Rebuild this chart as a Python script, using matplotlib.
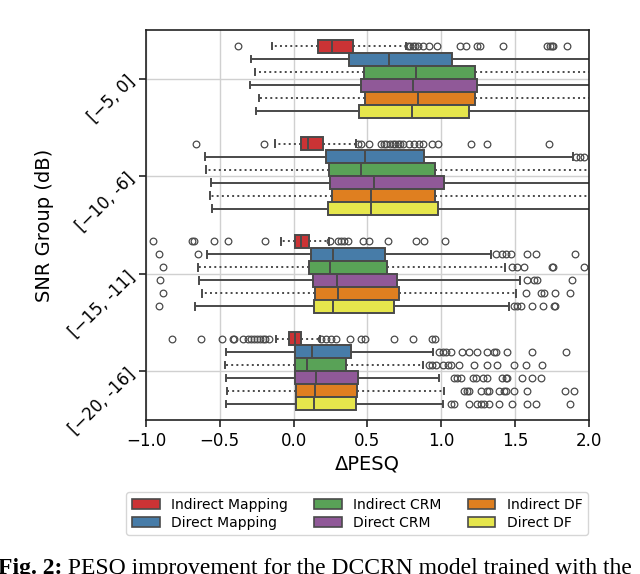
import colorsys
import matplotlib
matplotlib.use("Agg")
import matplotlib.pyplot as plt
from matplotlib.patches import Patch
import matplotlib.colors as mcolors

groups = ["[\u22125, 0]", "[\u221210, -6]", "[\u221215, -11]", "[\u221220, -16]"]
methods = ["Indirect Mapping", "Direct Mapping", "Indirect CRM",
           "Direct CRM", "Indirect DF", "Direct DF"]
base_colors = ["#e41a1c", "#377eb8", "#4daf4a", "#984ea3", "#ff7f00", "#ffff33"]

whislo = {
    "Indirect Mapping": [-0.147, -0.124, -0.083, -0.117],
    "Direct Mapping":   [-0.286, -0.601, -0.585, -0.455],
    "Indirect CRM":     [-0.259, -0.592, -0.646, -0.462],
    "Direct CRM":       [-0.297, -0.559, -0.640, -0.455],
    "Indirect DF":      [-0.236, -0.565, -0.617, -0.448],
    "Direct DF":        [-0.257, -0.554, -0.667, -0.455],
}
q1 = {
    "Indirect Mapping": [0.164, 0.050, 0.011, -0.034],
    "Direct Mapping":   [0.378, 0.221, 0.119, 0.007],
    "Indirect CRM":     [0.475, 0.239, 0.104, 0.010],
    "Direct CRM":       [0.459, 0.248, 0.135, 0.010],
    "Indirect DF":      [0.486, 0.259, 0.142, 0.019],
    "Direct DF":        [0.446, 0.234, 0.140, 0.014],
}
med = {
    "Indirect Mapping": [0.260, 0.097, 0.052, 0.007],
    "Direct Mapping":   [0.649, 0.482, 0.270, 0.126],
    "Indirect CRM":     [0.829, 0.455, 0.248, 0.090],
    "Direct CRM":       [0.806, 0.543, 0.293, 0.153],
    "Indirect DF":      [0.845, 0.522, 0.304, 0.142],
    "Direct DF":        [0.800, 0.522, 0.270, 0.137],
}
q3 = {
    "Indirect Mapping": [0.400, 0.198, 0.108, 0.052],
    "Direct Mapping":   [1.072, 0.885, 0.619, 0.392],
    "Indirect CRM":     [1.230, 0.957, 0.635, 0.356],
    "Direct CRM":       [1.241, 1.016, 0.700, 0.437],
    "Indirect DF":      [1.228, 0.957, 0.714, 0.430],
    "Direct DF":        [1.189, 0.980, 0.678, 0.423],
}
whishi = {
    "Indirect Mapping": [0.760, 0.420, 0.243, 0.176],
    "Direct Mapping":   [2.400, 1.894, 1.340, 0.946],
    "Indirect CRM":     [2.500, 2.300, 1.432, 0.878],
    "Direct CRM":       [2.500, 2.300, 1.534, 0.982],
    "Indirect DF":      [2.500, 2.300, 1.509, 1.016],
    "Direct DF":        [2.400, 2.300, 1.459, 1.010],
}
fliers = {
    "Indirect Mapping": [
        [-0.376, 0.773, 0.79, 0.806, 0.82, 0.84, 0.874, 0.919, 0.975, 1.13, 1.17,
         1.24, 1.26, 1.42, 1.72, 1.735, 1.75, 1.76, 1.85],
        [-0.658, -0.20, 0.435, 0.457, 0.514, 0.592, 0.61, 0.626, 0.65, 0.671, 0.69,
         0.705, 0.72, 0.739, 0.784, 0.818, 0.851, 0.874, 0.94, 0.98, 1.20, 1.31, 1.73],
        [-0.95, -0.69, -0.675, -0.54, -0.444, -0.19, 0.25, 0.30, 0.32, 0.34, 0.37,
         0.473, 0.514, 0.637, 0.829, 0.885, 1.025],
        [-0.82, -0.628, -0.484, -0.41, -0.40, -0.342, -0.31, -0.29, -0.27, -0.25,
         -0.23, -0.21, -0.19, -0.165, 0.187, 0.22, 0.254, 0.288, 0.385, 0.457,
         0.486, 0.682, 0.806, 0.94, 0.96],
    ],
    "Direct Mapping": [
        [],
        [1.91, 1.94, 1.97],
        [-0.912, -0.646, 1.37, 1.414, 1.437, 1.47, 1.58, 1.645, 1.905],
        [0.986, 1.009, 1.032, 1.066, 1.144, 1.19, 1.245, 1.313, 1.358, 1.37,
         1.444, 1.617, 1.847],
    ],
    "Indirect CRM": [
        [],
        [],
        [-0.883, 1.477, 1.515, 1.56, 1.75, 1.76, 1.966],
        [0.919, 0.94, 0.964, 1.009, 1.043, 1.066, 1.122, 1.225, 1.313, 1.381,
         1.493, 1.572, 1.685],
    ],
    "Direct CRM": [
        [],
        [],
        [-0.905, 1.58, 1.626, 1.649, 1.883],
        [1.088, 1.11, 1.133, 1.216, 1.239, 1.284, 1.313, 1.414, 1.437, 1.448,
         1.55, 1.617, 1.673],
    ],
    "Indirect DF": [
        [],
        [],
        [-0.883, 1.572, 1.673, 1.696, 1.77, 1.876],
        [1.155, 1.178, 1.19, 1.268, 1.313, 1.324, 1.392, 1.426, 1.437, 1.493,
         1.583, 1.842, 1.898],
    ],
    "Direct DF": [
        [],
        [],
        [-0.912, 1.493, 1.515, 1.538, 1.612, 1.691, 1.763, 1.77],
        [1.066, 1.088, 1.19, 1.245, 1.268, 1.29, 1.324, 1.392, 1.482, 1.579,
         1.64, 1.876],
    ],
}
caption_bold = "Fig. 2:"
caption_rest = " PESQ improvement for the DCCRN model trained with the"


def desaturate(c, prop=0.75):
    r, g, b = mcolors.to_rgb(c)
    h, l, s = colorsys.rgb_to_hls(r, g, b)
    return colorsys.hls_to_rgb(h, l, s * prop)


colors = [desaturate(c) for c in base_colors]
line_col = "#4a4a4a"

fig = plt.figure(figsize=(6.4, 5.74), dpi=100)
ax = fig.add_axes([0.228, 0.268, 0.692, 0.680])

n = len(methods)
bw = 0.8 / n
for h, m in enumerate(methods):
    offset = -0.4 + (h + 0.5) * bw
    stats = []
    for g in range(len(groups)):
        stats.append(dict(med=med[m][g], q1=q1[m][g], q3=q3[m][g],
                          whislo=whislo[m][g], whishi=whishi[m][g],
                          fliers=fliers[m][g]))
    positions = [g + offset for g in range(len(groups))]
    ls = ":" if m.startswith("Indirect") else "-"
    ax.bxp(stats, positions=positions, widths=bw, vert=False,
           patch_artist=True, manage_ticks=False,
           boxprops=dict(facecolor=colors[h], edgecolor=line_col, linewidth=1.4),
           medianprops=dict(color=line_col, linewidth=1.4),
           whiskerprops=dict(color=line_col, linewidth=1.4, linestyle=ls),
           capprops=dict(color=line_col, linewidth=1.4),
           flierprops=dict(marker="o", markerfacecolor="none",
                           markeredgecolor=line_col, markersize=4.8,
                           markeredgewidth=0.9, linestyle="none"))

ax.set_xlim(-1.0, 2.0)
ax.set_ylim(3.5, -0.5)
ax.set_xticks([-1.0, -0.5, 0.0, 0.5, 1.0, 1.5, 2.0])
ax.set_yticks(range(len(groups)))
ax.set_yticklabels(groups, rotation=45, fontsize=12, va="center", ha="right",
                   rotation_mode="anchor")
ax.tick_params(axis="x", labelsize=12)
ax.tick_params(axis="y", pad=5)
ax.tick_params(axis="both", length=5, width=1.2, color="#222222")
ax.grid(True, color="#d0d0d0", linewidth=1.0)
ax.set_axisbelow(True)
for sp in ax.spines.values():
    sp.set_color("#222222")
    sp.set_linewidth(1.2)
ax.set_xlabel("\u0394PESQ", fontsize=14, labelpad=3)
ax.set_ylabel("SNR Group (dB)", fontsize=14, labelpad=8)

handles = [Patch(facecolor=colors[i], edgecolor=line_col, linewidth=1.2, label=m)
           for i, m in enumerate(methods)]
fig.legend(handles=handles, loc="upper center", bbox_to_anchor=(0.558, 0.155),
           ncol=3, fontsize=10, frameon=True, columnspacing=1.9,
           handlelength=2.0, borderpad=0.4, labelspacing=0.3)

t1 = fig.text(-0.003, 1 - 558 / 574, caption_bold, fontsize=17, fontweight="bold",
              family="Liberation Serif", va="top", ha="left")
fig.canvas.draw()
bb = t1.get_window_extent()
x_end = bb.x1 / fig.bbox.width
fig.text(x_end, 1 - 558 / 574, caption_rest, fontsize=17,
         family="Liberation Serif", va="top", ha="left")

fig.savefig("out.png", dpi=100)
